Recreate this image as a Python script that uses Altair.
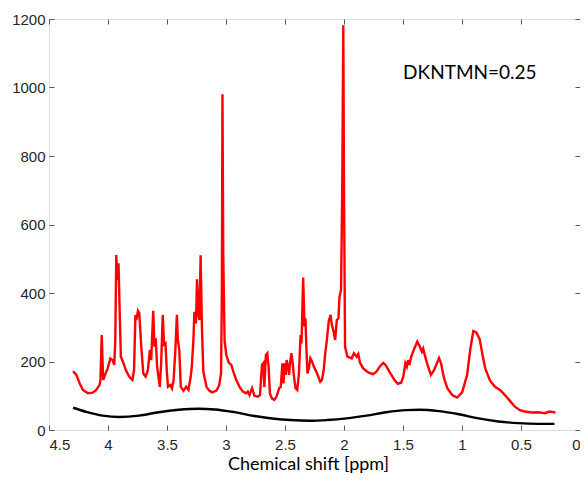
import altair as alt
import pandas as pd

# Red spectrum (chemical shift in ppm, intensity)
red_ppm = [4.296, 4.268, 4.240, 4.212, 4.171, 4.129, 4.100, 4.072, 4.064, 4.053,
           4.041, 4.025, 4.003, 3.980, 3.961, 3.947, 3.938, 3.930, 3.919, 3.911,
           3.902, 3.891, 3.869, 3.849, 3.821, 3.793, 3.779, 3.768, 3.760, 3.746,
           3.735, 3.718, 3.701, 3.681, 3.662, 3.645, 3.634, 3.617, 3.606, 3.595,
           3.584, 3.561, 3.549, 3.536, 3.525, 3.513, 3.502, 3.492, 3.471, 3.458,
           3.444, 3.430, 3.416, 3.408, 3.396, 3.383, 3.360, 3.337, 3.318, 3.299,
           3.290, 3.276, 3.268, 3.254, 3.246, 3.234, 3.226, 3.215, 3.204, 3.192,
           3.165, 3.142, 3.117, 3.081, 3.058, 3.042, 3.035, 3.030, 3.023, 3.012,
           2.997, 2.977, 2.955, 2.933, 2.913, 2.885, 2.857, 2.829, 2.815, 2.801,
           2.779, 2.759, 2.731, 2.712, 2.695, 2.684, 2.675, 2.662, 2.650, 2.639,
           2.628, 2.611, 2.591, 2.572, 2.549, 2.536, 2.522, 2.513, 2.503, 2.494,
           2.486, 2.474, 2.466, 2.457, 2.446, 2.435, 2.424, 2.410, 2.396, 2.382,
           2.368, 2.360, 2.346, 2.335, 2.327, 2.318, 2.310, 2.298, 2.285, 2.270,
           2.256, 2.228, 2.201, 2.187, 2.172, 2.159, 2.145, 2.130, 2.114, 2.103,
           2.088, 2.075, 2.061, 2.047, 2.038, 2.025, 2.015, 2.006, 2.000, 1.991,
           1.971, 1.935, 1.916, 1.893, 1.879, 1.865, 1.837, 1.795, 1.753, 1.726,
           1.698, 1.667, 1.648, 1.614, 1.572, 1.544, 1.516, 1.497, 1.480, 1.468,
           1.457, 1.446, 1.430, 1.404, 1.379, 1.357, 1.340, 1.329, 1.312, 1.292,
           1.264, 1.237, 1.208, 1.195, 1.178, 1.153, 1.124, 1.083, 1.041, 0.999,
           0.957, 0.929, 0.904, 0.879, 0.850, 0.824, 0.803, 0.762, 0.720, 0.678,
           0.636, 0.594, 0.552, 0.510, 0.468, 0.412, 0.357, 0.315, 0.300, 0.259,
           0.208]
red_int = [172, 161, 136, 117, 107, 109, 117, 131, 146, 277,
           146, 161, 180, 209, 204, 190, 263, 511, 438, 487,
           360, 214, 195, 175, 156, 146, 175, 336, 321, 348,
           341, 243, 165, 156, 175, 234, 204, 348, 243, 268,
           185, 126, 200, 336, 250, 253, 175, 126, 131, 122,
           146, 229, 336, 263, 234, 126, 115, 126, 117, 156,
           185, 263, 345, 311, 440, 340, 321, 510, 300, 170,
           126, 115, 110, 115, 130, 165, 400, 980, 500, 260,
           219, 197, 190, 165, 146, 126, 112, 107, 112, 102,
           122, 100, 97, 102, 190, 195, 126, 219, 224, 185,
           107, 92, 88, 97, 122, 126, 195, 136, 195, 161,
           204, 185, 161, 195, 224, 195, 156, 122, 117, 165,
           277, 253, 445, 302, 326, 234, 165, 180, 209, 199,
           185, 165, 141, 146, 175, 224, 263, 316, 336, 307,
           287, 263, 321, 326, 389, 409, 700, 1182, 700, 243,
           214, 209, 224, 214, 222, 197, 180, 168, 163, 170,
           185, 196, 190, 170, 146, 135, 138, 156, 195, 185,
           204, 190, 214, 238, 258, 243, 229, 238, 214, 190,
           161, 175, 199, 210, 195, 152, 122, 102, 95, 110,
           160, 238, 289, 285, 265, 215, 180, 144, 126, 117,
           102, 85, 68, 58, 54, 51, 52, 50, 49, 54,
           51]

# Black baseline curve
base_ppm = [4.296, 4.184, 4.045, 3.905, 3.737, 3.570, 3.402, 3.234, 3.094, 2.927,
            2.759, 2.591, 2.452, 2.285, 2.145, 1.977, 1.809, 1.642, 1.474, 1.363,
            1.195, 1.027, 0.860, 0.692, 0.524, 0.357, 0.217]
base_int = [65, 53, 42, 38, 42, 52, 59, 62, 60, 52,
            41, 33, 29, 27, 29, 34, 42, 52, 58, 59,
            55, 46, 34, 25, 20, 18, 18]

x_ticks = [0, 0.5, 1, 1.5, 2, 2.5, 3, 3.5, 4, 4.5]
y_ticks = [0, 200, 400, 600, 800, 1000, 1200]

label_text = ["DKNTMN=0.25"]
label_ppm = [1.499]
label_int = [1025]

df_red = pd.DataFrame({"ppm": red_ppm, "intensity": red_int})
df_base = pd.DataFrame({"ppm": base_ppm, "intensity": base_int})
df_lab = pd.DataFrame({"ppm": label_ppm, "intensity": label_int, "t": label_text})

def xs():
    return alt.Scale(domain=[0, 4.5], reverse=True, nice=False, zero=False)

def ys():
    return alt.Scale(domain=[0, 1200], nice=False)

tick_col = "#555555"
lab_col = "#262626"

red = alt.Chart(df_red).mark_line(color="#ff0000", strokeWidth=2.4).encode(
    x=alt.X("ppm:Q", scale=xs(), axis=alt.Axis(
        orient="bottom", values=x_ticks, format="~g", title="Chemical shift [ppm]",
        offset=-5, tickSize=5, domain=False, grid=False, labelPadding=7,
        labelFont="Liberation Sans", labelFontSize=15, labelColor=lab_col,
        tickColor=tick_col, titleFont="Lato", titleFontSize=18,
        titleFontWeight="normal", titleColor="#000000",
        titleBaseline="alphabetic", titleY=44, titleX=259, titleAlign="center")),
    y=alt.Y("intensity:Q", scale=ys(), axis=alt.Axis(
        orient="left", values=y_ticks, format="d", title=None,
        offset=-5, tickSize=5, domain=False, grid=False, labelPadding=4,
        labelFont="Liberation Sans", labelFontSize=15, labelColor=lab_col,
        tickColor=tick_col)),
)

base = alt.Chart(df_base).mark_line(color="#000000", strokeWidth=2.4, interpolate="monotone").encode(
    x=alt.X("ppm:Q", scale=xs(), axis=alt.Axis(
        orient="top", values=x_ticks, labels=False, title=None,
        offset=-5, tickSize=5, domain=False, grid=False, tickColor=tick_col)),
    y=alt.Y("intensity:Q", scale=ys(), axis=alt.Axis(
        orient="right", values=y_ticks, labels=False, title=None,
        offset=-5, tickSize=5, domain=False, grid=False, tickColor=tick_col)),
)

txt = alt.Chart(df_lab).mark_text(align="left", baseline="alphabetic", font="Lato",
                                  fontSize=19, color="#000000").encode(
    x=alt.X("ppm:Q", scale=xs(), axis=None),
    y=alt.Y("intensity:Q", scale=ys(), axis=None),
    text="t:N",
)

chart = alt.layer(red, base, txt).resolve_scale(
    x="independent", y="independent"
).properties(
    width=531, height=411,
    autosize=alt.AutoSizeParams(type="none"),
    padding={"left": 41, "top": 11, "right": 0, "bottom": 43},
).configure_view(stroke=tick_col, strokeWidth=1).configure(background="white")

chart.save("out.html", embed_options={"renderer": "svg", "actions": False})
